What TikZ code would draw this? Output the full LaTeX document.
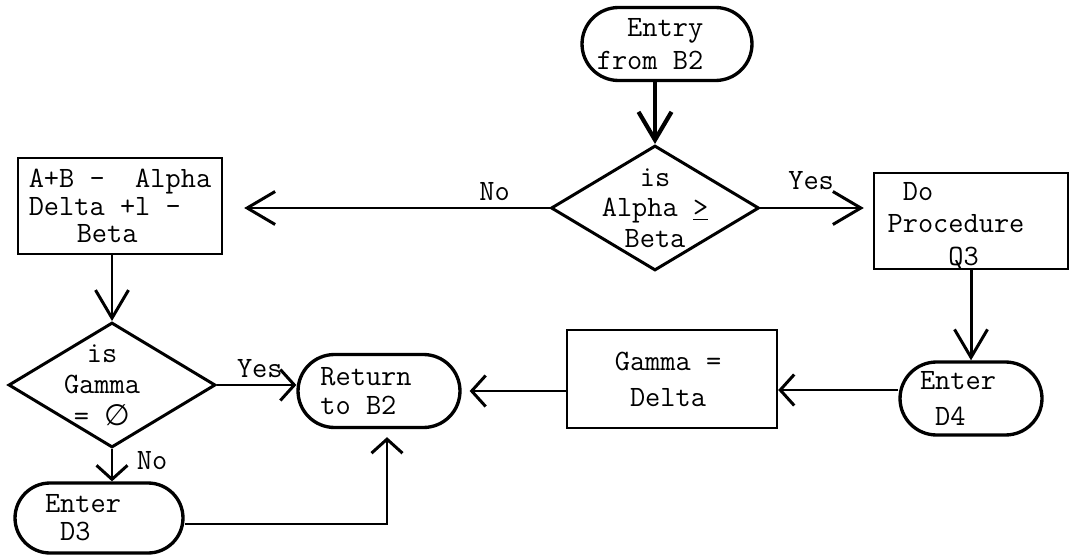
\documentclass[tikz,border=0pt]{standalone}
\usepackage{fontspec}
\newfontfamily\symfont{DejaVu Sans}
\usetikzlibrary{arrows.meta,shapes.geometric,shapes.misc}
% typewriter text: Latin Modern Mono, about 15.5px per character
\newcommand\twf[1]{\ttfamily\fontsize{16.8pt}{#1pt}\selectfont}

\begin{document}
\begin{tikzpicture}[x=0.02cm,y=-0.02cm,
  term/.style={draw, rounded rectangle, line width=1.9pt, inner sep=0pt},
  proc/.style={draw, rectangle, line width=1.4pt, inner sep=0pt},
  decide/.style={draw, diamond, line width=1.7pt, inner sep=0pt},
  txt/.style={align=left, inner sep=0pt},
  sharp/.style={line width=1.7pt, -{Straight Barb[length=0.56cm,width=0.66cm]}},
  blunt/.style={line width=1.7pt, -{Straight Barb[length=0.28cm,width=0.62cm]}},
  lbl/.style={font=\twf{17}}
]
\useasboundingbox (0,0) rectangle (1071,557);
\fill[white] (0,0) rectangle (1071,557);

% terminals
\node[term, minimum width=3.4cm, minimum height=1.46cm,
  label={[txt, align=right, font=\twf{18.5}, xshift=-0.34cm]center:Entry\\from B2}] (entry) at (667,44) {};
\node[term, minimum width=3.24cm, minimum height=1.46cm,
  label={[txt, font=\twf{16.5}, xshift=-0.26cm]center:Return\\to B2}] (ret) at (379,391) {};
\node[term, minimum width=3.36cm, minimum height=1.4cm,
  label={[txt, font=\twf{16}, xshift=-0.32cm]center:Enter\\\phantom{E}D3}] (d3) at (99,518) {};
\node[term, minimum width=2.84cm, minimum height=1.46cm,
  label={[txt, font=\twf{20}, xshift=-0.26cm]center:Enter\\\phantom{E}D4}] (d4) at (971,398.5) {};

% decisions
\node[decide, minimum width=4.16cm, minimum height=2.5cm,
  label={[txt, align=center, font=\twf{17.5}]center:is\\Alpha \underline{>}\\Beta}] (d1) at (655,208) {};
\node[decide, minimum width=4.14cm, minimum height=2.5cm,
  label={[txt, align=center, font=\twf{18}, xshift=-0.2cm]center:is\\Gamma\\= {\symfont ∅}}] (d2) at (112,385) {};

% processes
\node[proc, minimum width=4.08cm, minimum height=1.92cm,
  label={[txt, font=\twf{15.6}]center:A+B -\ \ Alpha\\Delta +l -\\\hspace*{0.96cm}Beta}] (lbox) at (120,206) {};
\node[proc, minimum width=3.88cm, minimum height=1.92cm,
  label={[txt, font=\twf{18.5}, xshift=-0.3cm, yshift=-0.1cm]center:\phantom{P}Do\\Procedure\\\phantom{Proc}Q3}] (rbox) at (971,221) {};
\node[proc, minimum width=4.2cm, minimum height=1.96cm,
  label={[txt, align=center, font=\twf{20.5}, xshift=-0.08cm]center:Gamma =\\Delta}] (gd) at (672,379) {};

% connectors
\draw[sharp, line width=2.4pt] (entry.south -| d1.north) -- (d1.north);
\draw[sharp] (d1.west) -- node[lbl, above, pos=0.18] {No} ([xshift=0.42cm]lbox.east |- d1.west);
\draw[sharp] (d1.east) -- node[lbl, above=6pt, pos=0.49] {Yes} ([xshift=-0.18cm]rbox.west |- d1.east);
\draw[sharp] (lbox.south -| d2.north) -- (d2.north);
\draw[sharp] (rbox.south -| d4.north) -- (d4.north);
\draw[blunt] ([yshift=0.17cm]d4.west) -- ([yshift=0.17cm]d4.west -| gd.east);
\draw[blunt] (gd.west |- ret.east) -- ([xshift=0.16cm]ret.east);
\draw[blunt] (d2.east) -- node[lbl, above, pos=0.54] {Yes} (d2.east -| ret.west);
\draw[blunt] (d2.south) -- node[lbl, right=10pt, pos=0.35] {No} (d2.south |- d3.north);
\draw[blunt] ([yshift=-0.12cm]d3.east) -| ([xshift=0.16cm,yshift=-0.16cm]ret.south);
\end{tikzpicture}
\end{document}
